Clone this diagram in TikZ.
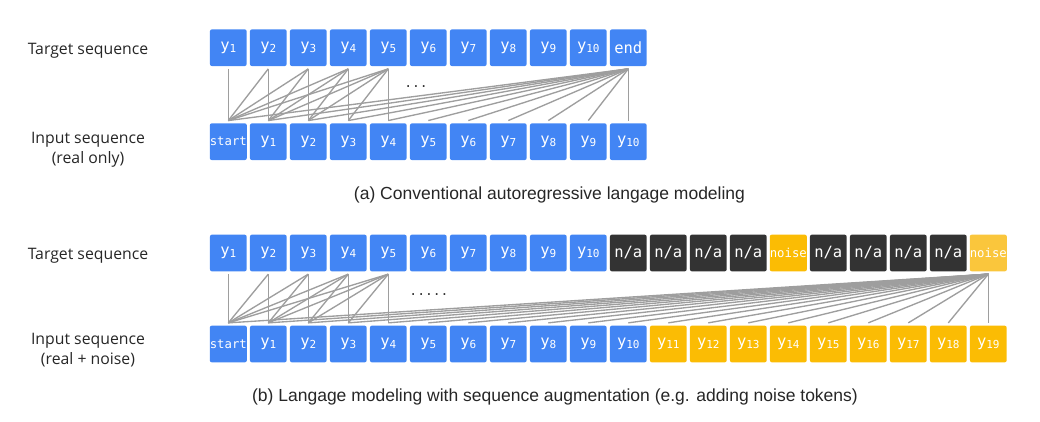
\documentclass[tikz,border=0pt]{standalone}
\usepackage{fontspec}
\setmainfont{Liberation Sans}
\newfontfamily\labelfont{Open Sans}
\newfontfamily\tokfont{DejaVu Sans Mono}
\definecolor{tblue}{HTML}{4285F4}
\definecolor{tdark}{HTML}{333333}
\definecolor{tyel}{HTML}{FBBC04}
\definecolor{tyelL}{HTML}{FAC63C}
\definecolor{conncol}{HTML}{9E9E9E}
\newcommand{\tokY}[1]{y\raisebox{-1.8pt}{\fontsize{11}{11}\selectfont #1}}
\begin{document}
\begin{tikzpicture}[x=1pt,y=-1pt,
  tok/.style={rectangle, rounded corners=2pt, minimum width=36.7pt, minimum height=36.7pt,
    inner sep=0pt, outer sep=0pt, outer ysep=2.8pt, text=white,
    font=\tokfont\fontsize{15.5}{15.5}\selectfont},
  small/.style={font=\tokfont\fontsize{12.3}{12.3}\selectfont},
  blue/.style={tok, fill=tblue},
  dark/.style={tok, fill=tdark},
  yel/.style={tok, fill=tyel},
  conn/.style={draw=conncol, line width=1.35pt},
  lab/.style={font=\labelfont\fontsize{15.8}{20}\selectfont, align=center, text=black!85},
  captext/.style={font=\fontsize{17.5}{20}\selectfont, text=black!85},
  dotstyle/.style={font=\tokfont\fontsize{13}{13}\selectfont, text=black!80, inner sep=0pt}]
\useasboundingbox (0,0) rectangle (1040,421);
% ---------- panel (a) ----------
\node[lab] (a-lt) at (88,50.5) {Target sequence};
\node[lab] (a-li) at (88,149.5) {Input sequence\\(real only)};
\foreach \p in {0,...,9} {
  \pgfmathtruncatemacro\n{\p+1}
  \node[blue] (a-t\p) at ({228.3+40*\p},47.7) {\tokY{\n}};
}
\node[blue] (a-t10) at (628.3,47.7) {end};
\node[blue, small] (a-i0) at (228.3,141.7) {start};
\foreach \p in {1,...,10} {
  \node[blue] (a-i\p) at ({228.3+40*\p},141.7) {\tokY{\p}};
}
\foreach \t in {0,...,4} {
  \foreach \s in {0,...,\t} {
    \draw[conn] (a-t\t.south) -- (a-i\s.north);
  }
}
\foreach \s in {0,...,10} {
  \draw[conn] (a-t10.south) -- (a-i\s.north);
}
\node[dotstyle] (a-dots) at (416,86.5) {...};
\node[captext] (a-cap) at (549.5,195) {(a) Conventional autoregressive langage modeling};
% ---------- panel (b) ----------
\node[lab] (b-lt) at (88,255.5) {Target sequence};
\node[lab] (b-li) at (88,350.5) {Input sequence\\(real + noise)};
\foreach \p in {0,...,9} {
  \pgfmathtruncatemacro\n{\p+1}
  \node[blue] (b-t\p) at ({228.3+40*\p},253) {\tokY{\n}};
}
\foreach \p in {10,11,12,13,15,16,17,18} {
  \node[dark] (b-t\p) at ({228.3+40*\p},253) {n/a};
}
\node[yel, small] (b-t14) at ({228.3+40*14},253) {noise};
\node[tok, fill=tyelL, small] (b-t19) at ({228.3+40*19},253) {noise};
\node[blue, small] (b-i0) at (228.3,344) {start};
\foreach \p in {1,...,10} {
  \node[blue] (b-i\p) at ({228.3+40*\p},344) {\tokY{\p}};
}
\foreach \p in {11,...,19} {
  \node[yel] (b-i\p) at ({228.3+40*\p},344) {\tokY{\p}};
}
\foreach \t in {0,...,4} {
  \foreach \s in {0,...,\t} {
    \draw[conn] (b-t\t.south) -- (b-i\s.north);
  }
}
\foreach \s in {0,...,19} {
  \draw[conn] (b-t19.south) -- (b-i\s.north);
}
\node[dotstyle] (b-dots) at (429,294.5) {.....};
\node[captext] (b-cap) at (555,397) {(b) Langage modeling with sequence augmentation (e.g. adding noise tokens)};
\end{tikzpicture}
\end{document}
